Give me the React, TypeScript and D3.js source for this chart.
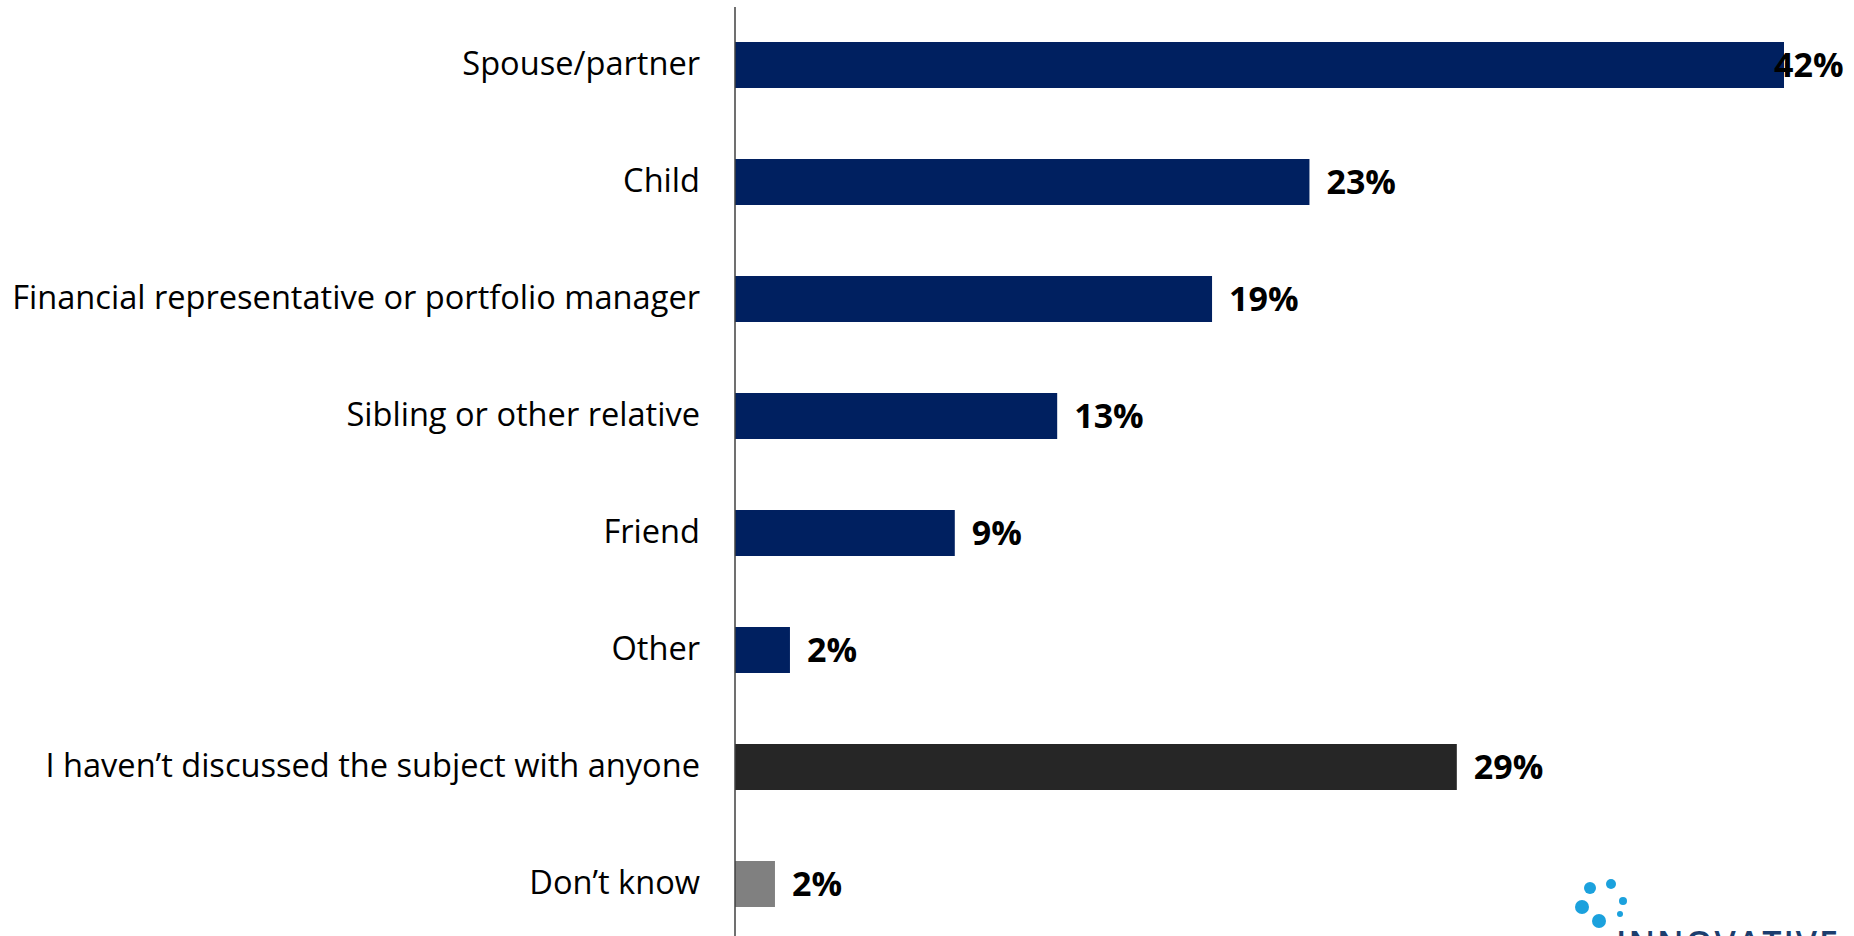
import React from "react";
import * as d3 from "d3";

const categories = [
  "Spouse/partner",
  "Child",
  "Financial representative or portfolio manager",
  "Sibling or other relative",
  "Friend",
  "Other",
  "I haven\u2019t discussed the subject with anyone",
  "Don\u2019t know",
];
const values = [42, 23, 19.1, 12.9, 8.8, 2.2, 28.9, 1.6];
const valueLabels = ["42%", "23%", "19%", "13%", "9%", "2%", "29%", "2%"];
const barColors = ["#002060", "#002060", "#002060", "#002060", "#002060", "#002060", "#262626", "#808080"];

const W = 1854;
const H = 936;

export default function App() {
  const x = d3.scaleLinear().domain([0, 42]).range([735, 1784]);
  const y = d3
    .scaleBand<string>()
    .domain(categories)
    .range([6.5, 942.5])
    .paddingInner(0.607)
    .paddingOuter(0.3035);
  const logoDots = [
    { cx: 1590, cy: 888, r: 6 },
    { cx: 1611, cy: 884, r: 5 },
    { cx: 1582, cy: 907, r: 7 },
    { cx: 1623, cy: 901, r: 4 },
    { cx: 1599, cy: 921, r: 7 },
    { cx: 1620, cy: 914, r: 3 },
  ];
  return (
    <svg width={W} height={H} style={{ position: "absolute", left: 0, top: 0, background: "#fff" }}>
      <rect width={W} height={H} fill="#fff" />
      {categories.map((c, i) => {
        const yy = y(c)!;
        const bw = y.bandwidth();
        const cy = yy + bw / 2;
        const end = x(values[i]);
        const lx = Math.min(end + 17, 1774);
        return (
          <g key={c}>
            <rect x={x(0)} y={yy} width={end - x(0)} height={bw} fill={barColors[i]} />
            <text x={700} y={cy + 10} textAnchor="end" fontFamily="'Open Sans', sans-serif" fontSize={32.6} fill="#000">
              {c}
            </text>
            <text x={lx} y={cy + 12} fontFamily="'Open Sans', sans-serif" fontWeight="bold" fontSize={34} fill="#000">
              {valueLabels[i]}
            </text>
          </g>
        );
      })}
      <line x1={x(0)} x2={x(0)} y1={7} y2={H} stroke="#404040" strokeWidth={1.5} />
      {logoDots.map((d, i) => (
        <circle key={i} cx={d.cx} cy={d.cy} r={d.r} fill="#1ba1dd" />
      ))}
      <text x={1616} y={956} fontFamily="'Open Sans', sans-serif" fontWeight={600} fontSize={34} fill="#1c3e6e" textLength={222}>
        INNOVATIVE
      </text>
    </svg>
  );
}
